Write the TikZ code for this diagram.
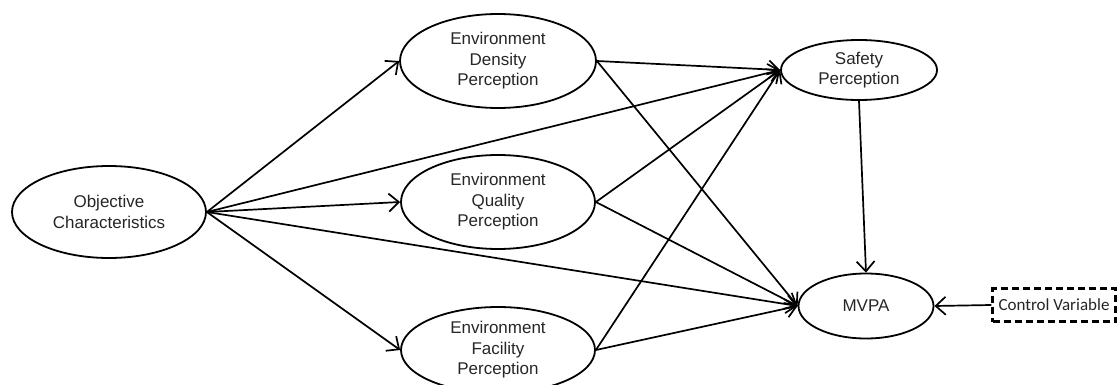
\documentclass[tikz,border=0pt]{standalone}
\usepackage{fontspec}
\setmainfont{Liberation Sans}
\newfontfamily\califont{Carlito}
\usetikzlibrary{arrows.meta,shapes.geometric}
\begin{document}
\begin{tikzpicture}[x=1pt,y=-1pt,
  lat/.style={draw, ellipse, line width=1.8pt, inner sep=0pt, align=center,
    text=black!85, font=\fontsize{17}{20.5}\selectfont},
  cvbox/.style={draw, rectangle, line width=2.5pt, dash pattern=on 7pt off 4pt,
    inner sep=0pt, minimum width=123pt, minimum height=33pt,
    text=black!85, font=\califont\fontsize{17}{20}\selectfont},
  path/.style={line width=1.7pt, -{Straight Barb[length=10pt,width=18pt,line width=1.7pt]}}]
\useasboundingbox (0,0) rectangle (1118,385);
\node[lat, minimum width=194pt, minimum height=92pt] (obj) at (109,212) {Objective\\Characteristics};
\node[lat, minimum width=196pt, minimum height=94pt] (den) at (498,61) {Environment\\Density\\Perception};
\node[lat, minimum width=194pt, minimum height=94pt] (qua) at (498,202) {Environment\\Quality\\Perception};
\node[lat, minimum width=194pt, minimum height=86pt] (fac) at (498,350) {Environment\\Facility\\Perception};
\node[lat, minimum width=156pt, minimum height=60pt] (saf) at (859,70) {Safety\\Perception};
\node[lat, minimum width=135pt, minimum height=65pt] (mvpa) at (866,306) {MVPA};
\node[cvbox] (cv) at (1054,305) {Control Variable};
\draw[path] (obj.east) -- (den.west);
\draw[path] (obj.east) -- (saf.west);
\draw[path] (obj.east) -- (qua.west);
\draw[path] (obj.east) -- (mvpa.west);
\draw[path] (obj.east) -- (fac.west);
\draw[path] (den.east) -- (saf.west);
\draw[path] (den.east) -- (mvpa.west);
\draw[path] (qua.east) -- (saf.west);
\draw[path] (qua.east) -- (mvpa.west);
\draw[path] (fac.east) -- (saf.west);
\draw[path] (fac.east) -- (mvpa.west);
\draw[path] (saf.south) -- (mvpa.north);
\draw[path] (cv.west) -- (mvpa.east);
\end{tikzpicture}
\end{document}
